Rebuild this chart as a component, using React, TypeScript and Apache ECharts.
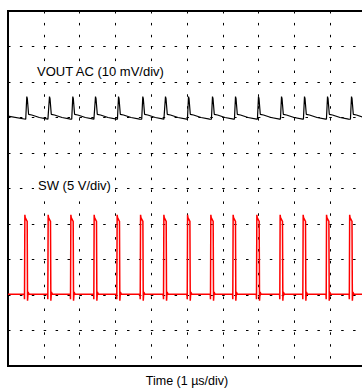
import React, { useEffect, useRef } from "react";
import * as echarts from "echarts";

// Time axis: 1 µs/div, 10 divisions
const timeTicksUs = [0, 1, 2, 3, 4, 5, 6, 7, 8, 9, 10];

// VOUT AC (mV) – times of the spike peaks (µs)
const voutSpikeTimes = [0.525, 1.159, 1.81, 2.444, 3.087, 3.765, 4.399, 5.042, 5.712, 6.355, 6.997, 7.64, 8.282, 8.925, 9.595];
// one ripple period around a spike: [time offset µs, mV]
const voutSpikeShape: [number, number][] = [
  [-0.03, -0.5],
  [0.0, 5.9],
  [0.015, 5.3],
  [0.05, 0.9],
  [0.14, 0.7],
  [0.35, 0.0],
  [0.59, -0.45],
];
const voutStart: [number, number] = [0, 0.4];
const voutEnd: [number, number] = [10, 0.3];

// SW node (V) – rising-edge times (µs)
const swRiseTimes = [0.461, 1.112, 1.746, 2.397, 3.039, 3.693, 4.344, 5.006, 5.656, 6.279, 6.941, 7.592, 8.235, 8.888, 9.534];
// one switching pulse: [time offset µs, V]
const swPulseShape: [number, number][] = [
  [-0.006, 0.1],
  [0.0, -0.6],
  [0.01, 11.3],
  [0.02, 10.9],
  [0.06, 10.5],
  [0.075, 10.4],
  [0.085, -0.8],
  [0.1, 0.4],
  [0.13, 0.1],
];

const labels = {
  vout: "VOUT AC (10 mV/div)",
  sw: "SW (5 V/div)",
  time: "Time (1 µs/div)",
};

function buildTrace(times: number[], shape: [number, number][], start: [number, number], end: [number, number]) {
  const pts: [number, number][] = [start];
  times.forEach((t) => {
    shape.forEach(([dt, v]) => pts.push([+(t + dt).toFixed(4), v]));
  });
  pts.push(end);
  return pts;
}

export default function App() {
  const ref = useRef<HTMLDivElement>(null);
  useEffect(() => {
    if (!ref.current) return;
    const chart = echarts.init(ref.current, undefined, { renderer: "svg" });
    const vout = buildTrace(voutSpikeTimes, voutSpikeShape, voutStart, voutEnd);
    const sw = buildTrace(swRiseTimes, swPulseShape, [0, 0.1], [10, 0.1]);
    const dash = [2.5, 9.4];
    chart.setOption({
      animation: false,
      backgroundColor: "#fff",
      grid: {
        left: 8,
        top: 11,
        width: 358,
        height: 357,
        show: true,
        borderColor: "#000",
        borderWidth: 2,
        backgroundColor: "transparent",
      },
      title: [
        {
          text: labels.vout,
          left: 33,
          top: 63,
          padding: [2, 4],
          backgroundColor: "#fff",
          textStyle: { fontFamily: "Liberation Sans, Arial", fontSize: 13, fontWeight: "normal", color: "#000" },
        },
        {
          text: labels.sw,
          left: 34,
          top: 177,
          padding: [2, 4],
          backgroundColor: "#fff",
          textStyle: { fontFamily: "Liberation Sans, Arial", fontSize: 13, fontWeight: "normal", color: "#000" },
        },
      ],
      xAxis: {
        type: "value",
        min: timeTicksUs[0],
        max: timeTicksUs[timeTicksUs.length - 1],
        interval: 1,
        name: labels.time,
        nameLocation: "middle",
        nameGap: 8,
        nameTextStyle: { fontFamily: "Liberation Sans, Arial", fontSize: 12.5, color: "#000" },
        axisLine: { show: false },
        axisTick: { show: false },
        axisLabel: { show: false },
        splitLine: { show: true, lineStyle: { color: "#000", width: 1, type: dash } },
      },
      yAxis: [
        {
          type: "value",
          min: -70,
          max: 30,
          interval: 10,
          axisLine: { show: false },
          axisTick: { show: false },
          axisLabel: { show: false },
          splitLine: { show: true, lineStyle: { color: "#000", width: 1, type: dash } },
        },
        {
          type: "value",
          min: -10,
          max: 40,
          interval: 5,
          axisLine: { show: false },
          axisTick: { show: false },
          axisLabel: { show: false },
          splitLine: { show: false },
        },
      ],
      series: [
        {
          type: "line",
          name: "VOUT",
          yAxisIndex: 0,
          data: vout,
          showSymbol: false,
          lineStyle: { color: "#000", width: 1.2 },
          z: 3,
        },
        {
          type: "line",
          name: "SW",
          yAxisIndex: 1,
          data: sw,
          showSymbol: false,
          lineStyle: { color: "#ff0000", width: 1.5 },
          z: 3,
        },
      ],
    });
    return () => chart.dispose();
  }, []);
  return (
    <div style={{ position: "fixed", left: 0, top: 0, width: 362, height: 392, overflow: "hidden", background: "#fff" }}>
      <div ref={ref} style={{ position: "absolute", left: 0, top: 0, width: 380, height: 392 }} />
    </div>
  );
}
